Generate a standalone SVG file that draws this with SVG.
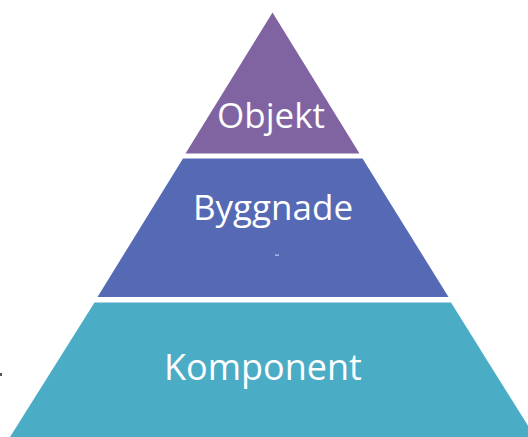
<svg xmlns="http://www.w3.org/2000/svg" width="528" height="437" viewBox="0 0 528 437">
<style>
.lbl{font-family:"Open Sans","Noto Sans","DejaVu Sans",sans-serif;fill:#ffffff;text-anchor:middle}
</style>
<rect x="0" y="0" width="528" height="437" fill="#ffffff"/>
<g id="connectors"></g>
<g id="node-objekt">
<polygon points="272.5,12.5 359.5,153.5 185.5,153.5" fill="#8064A2"/>
<text class="lbl" x="271" y="128" font-size="35">Objekt</text>
</g>
<g id="node-byggnade">
<polygon points="183,158.5 362.5,158.5 448.5,297 97.5,297" fill="#5669B4"/>
<text class="lbl" x="273" y="220" font-size="35">Byggnade</text>
<rect x="275" y="254.5" width="4" height="1.2" fill="#c4ccf0"/>
</g>
<g id="node-komponent">
<polygon points="94.5,302.5 451,302.5 535,437 10,437" fill="#4BACC6"/>
<text class="lbl" x="263" y="380" font-size="36">Komponent</text>
</g>
<rect x="0" y="373" width="2" height="3" fill="#555555"/>
</svg>
